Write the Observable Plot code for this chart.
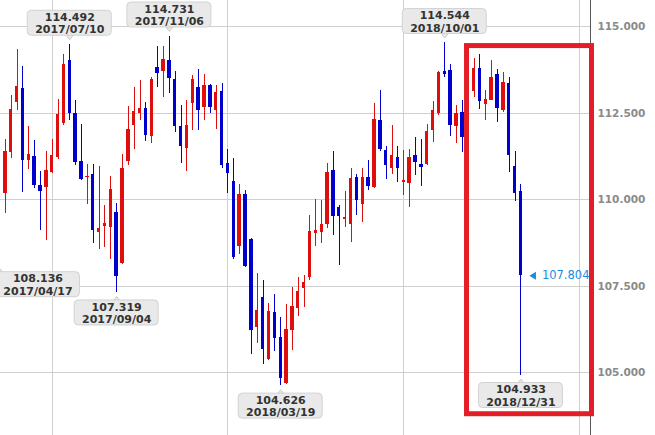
<!DOCTYPE html>
<html><head><meta charset="utf-8">
<script src="https://cdn.jsdelivr.net/npm/d3@7"></script>
<script src="https://cdn.jsdelivr.net/npm/@observablehq/plot@0.6"></script>
<style>html,body{margin:0;padding:0;background:#fff}#chart svg{display:block}</style>
</head><body><div id="chart"></div>
<script>
// Weekly USD/JPY candles, first week 2017/04/24, last week 2018/12/31 (89 weeks)
const open  = [110.18,111.37,112.81,113.21,111.13,111.24,110.40,110.36,110.79,111.22,
               112.19,114.02,112.48,111.10,110.64,110.72,109.06,109.22,109.20,109.63,
               108.17,111.11,112.14,112.48,112.64,111.82,113.82,113.71,114.02,113.47,
               112.12,111.48,112.77,113.25,112.67,113.29,112.59,113.12,111.06,110.52,
               108.65,110.16,108.84,106.31,107.16,105.39,106.74,106.02,104.68,106.23,
               106.86,107.44,107.74,109.03,109.06,109.28,110.84,109.78,109.43,109.28,
               110.63,109.87,110.63,110.36,112.30,111.42,110.90,111.22,110.50,110.47,
               111.27,111.03,111.03,111.99,112.48,113.70,113.73,112.11,112.52,111.85,
               113.13,113.78,112.76,112.88,113.63,112.59,113.36,110.95,110.24];
const high  = [111.75,113.02,114.35,113.84,112.11,111.70,110.81,111.40,111.75,112.91,
               114.19,114.492,112.86,112.16,111.03,111.03,110.95,109.83,110.66,109.90,
               111.32,112.69,113.23,113.44,112.81,113.54,114.42,114.42,114.731,113.70,
               112.72,112.86,113.58,113.75,113.63,113.34,113.29,113.36,111.46,111.20,
               110.45,110.28,108.88,107.88,107.66,107.01,107.27,106.60,106.98,107.47,
               107.75,107.82,109.54,110.02,109.99,111.06,111.39,109.82,110.24,110.89,
               110.74,110.91,111.13,112.78,113.17,111.53,112.14,111.53,111.42,111.46,
               111.80,111.75,112.17,112.84,113.70,114.544,113.92,112.72,112.88,113.38,
               114.07,114.19,113.17,114.02,113.75,113.68,113.52,111.40,110.45];
const low   = [109.60,111.20,112.57,110.21,110.86,110.31,109.10,108.82,110.76,111.17,
               112.15,112.28,110.98,110.55,109.86,108.72,108.57,108.62,108.26,107.319,
               108.14,110.98,111.46,112.30,111.68,111.61,113.25,112.94,113.08,111.95,
               111.05,110.82,111.99,112.01,112.30,112.48,112.04,110.91,110.19,108.27,
               108.41,108.03,105.54,105.83,105.23,105.35,105.62,104.626,104.65,105.64,
               106.62,106.87,107.66,108.64,108.74,109.18,108.96,108.09,109.20,108.76,
               109.54,109.34,110.26,110.31,111.40,110.57,110.74,110.50,110.12,109.78,
               110.69,110.38,111.00,111.66,112.43,113.54,111.82,111.61,111.37,111.78,
               112.96,112.62,112.30,112.86,112.23,112.52,110.79,109.95,104.933];
const close = [111.39,112.60,113.27,111.13,111.30,110.40,110.24,110.84,111.27,112.46,
               113.90,112.48,111.08,110.58,110.68,109.10,109.17,109.32,110.29,107.78,
               110.89,112.02,112.55,112.63,111.85,113.47,113.65,114.05,113.51,112.12,
               111.54,112.14,113.47,112.59,113.29,112.67,113.10,111.00,110.76,108.33,
               110.16,108.06,106.23,106.79,105.68,106.76,106.00,104.82,106.26,106.91,
               107.34,107.61,109.07,109.10,109.28,110.79,109.52,109.51,109.49,110.60,
               109.97,110.65,110.38,112.33,111.44,111.00,111.27,110.89,110.55,111.22,
               111.08,110.93,111.96,112.57,113.68,113.63,112.14,112.48,111.80,113.20,
               113.78,112.84,112.91,113.52,112.65,113.39,111.27,110.18,107.804];

// price axis ticks and vertical grid (week index)
const priceTicks = [105, 107.5, 110, 112.5, 115];
const gridWeeks = [8, 38, 68, 98];

// callouts: week index, price, date label, side
const calloutWeek  = [-1, 11, 19, 28, 47, 75, 88];
const calloutPrice = [108.136, 114.492, 107.319, 114.731, 104.626, 114.544, 104.933];
const calloutDate  = ["2017/04/17","2017/07/10","2017/09/04","2017/11/06","2018/03/19","2018/10/01","2018/12/31"];
const calloutSide  = ["below","above","below","above","below","above","below"];

const lastPrice = 107.804;
const highlight = {fromWeek: 78.8, toWeek: 100.13, top: 114.44, bottom: 103.80};

const UP = "#e00d0d", DOWN = "#0000cc";
const candles = open.map((o, i) => ({i, o, h: high[i], l: low[i], c: close[i],
  col: close[i] >= o ? UP : DOWN}));
const callouts = calloutWeek.map((w, k) => ({w, p: calloutPrice[k], d: calloutDate[k], side: calloutSide[k],
  shift: w < 0}));

const X0 = 4.83, STEP = 5.859, W = 655, H = 435, AXIS_X = 590;
const font = "DejaVu Sans, Verdana, sans-serif";

// small callout tails as custom symbols (tip toward the candle)
const tailDown = {draw(ctx) { ctx.moveTo(-3.5, -2.5); ctx.lineTo(3.5, -2.5); ctx.lineTo(0, 2); ctx.closePath(); }};
const tailUp   = {draw(ctx) { ctx.moveTo(-3.5, 2.5); ctx.lineTo(3.5, 2.5); ctx.lineTo(0, -2); ctx.closePath(); }};

function calloutMarks(data, side, shift) {
  const dy = side === "below" ? 20.5 : -21;
  const tailDy = side === "below" ? 6 : -6.5;
  return [
    Plot.dot(data, {x: "w", y: "p", dy: tailDy, symbol: side === "below" ? tailUp : tailDown, r: 3,
      fill: "#e9e9e9", stroke: "#cdcdcd", strokeWidth: 1}),
    Plot.rect(data, {x1: "w", x2: "w", y1: "p", y2: "p", dy, dx: shift,
      insetLeft: -42, insetRight: -42, insetTop: -12.5, insetBottom: -12.5, rx: 4,
      fill: "#e9e9e9", stroke: "#d2d2d2", strokeWidth: 1}),
    Plot.text(data, {x: "w", y: "p", text: d => d3.format(".3f")(d.p) + "\n" + d.d,
      dy, dx: shift, lineHeight: 1.12, fontSize: 11, fontWeight: "bold",
      fill: "#333", fontFamily: font})
  ];
}

const chart = Plot.plot({
  width: W, height: H,
  marginLeft: 0, marginRight: W - AXIS_X, marginTop: 0, marginBottom: 0,
  x: {type: "linear", domain: [0, 88], range: [X0, X0 + 88 * STEP], axis: null},
  y: {type: "linear", domain: [105, 115], range: [372.2, 26.2], axis: null},
  color: {type: "identity"},
  style: {background: "#fff", fontFamily: font, overflow: "visible"},
  marks: [
    Plot.ruleY(priceTicks, {stroke: "#d0d0d0", strokeWidth: 1, shapeRendering: "crispEdges"}),
    Plot.ruleX(gridWeeks, {stroke: "#d0d0d0", strokeWidth: 1, shapeRendering: "crispEdges"}),
    Plot.ruleX(candles, {x: "i", y1: "l", y2: "h", stroke: "col", strokeWidth: 1, shapeRendering: "crispEdges"}),
    Plot.rect(candles, {x1: d => d.i - 0.29, x2: d => d.i + 0.29, y1: "o",
      y2: d => Math.abs(d.c - d.o) < 0.04 ? d.o + 0.04 : d.c, fill: "col", shapeRendering: "crispEdges"}),
    Plot.ruleX([(AXIS_X - X0) / STEP], {stroke: "#555", strokeWidth: 1, shapeRendering: "crispEdges"}),
    Plot.text(priceTicks, {y: d => d, text: d => d3.format(".3f")(d), frameAnchor: "right", dx: 7,
      textAnchor: "start", fill: "#8a8a8a", fontWeight: "bold", fontSize: 10.5, fontFamily: font}),
    Plot.rect([highlight], {x1: "fromWeek", x2: "toWeek", y1: "top", y2: "bottom",
      fill: "none", stroke: "#e41e26", strokeWidth: 5}),
    ...calloutMarks(callouts.filter(d => d.side === "above"), "above", 0),
    ...calloutMarks(callouts.filter(d => d.side === "below" && !d.shift), "below", 0),
    ...calloutMarks(callouts.filter(d => d.shift), "below", 38.5),
    Plot.dot([lastPrice], {x: () => 88, y: d => d, dx: 12, symbol: {draw(ctx) { ctx.moveTo(3, -4); ctx.lineTo(3, 4); ctx.lineTo(-3.5, 0); ctx.closePath(); }},
      r: 3, fill: "#1a8ce0", stroke: "none"}),
    Plot.text([lastPrice], {x: () => 88, y: d => d, text: d => d3.format(".3f")(d), dx: 21,
      textAnchor: "start", fill: "#1a8ce0", fontSize: 11.5, fontFamily: font})
  ]
});
document.getElementById("chart").appendChild(chart);
</script>
</body></html>
